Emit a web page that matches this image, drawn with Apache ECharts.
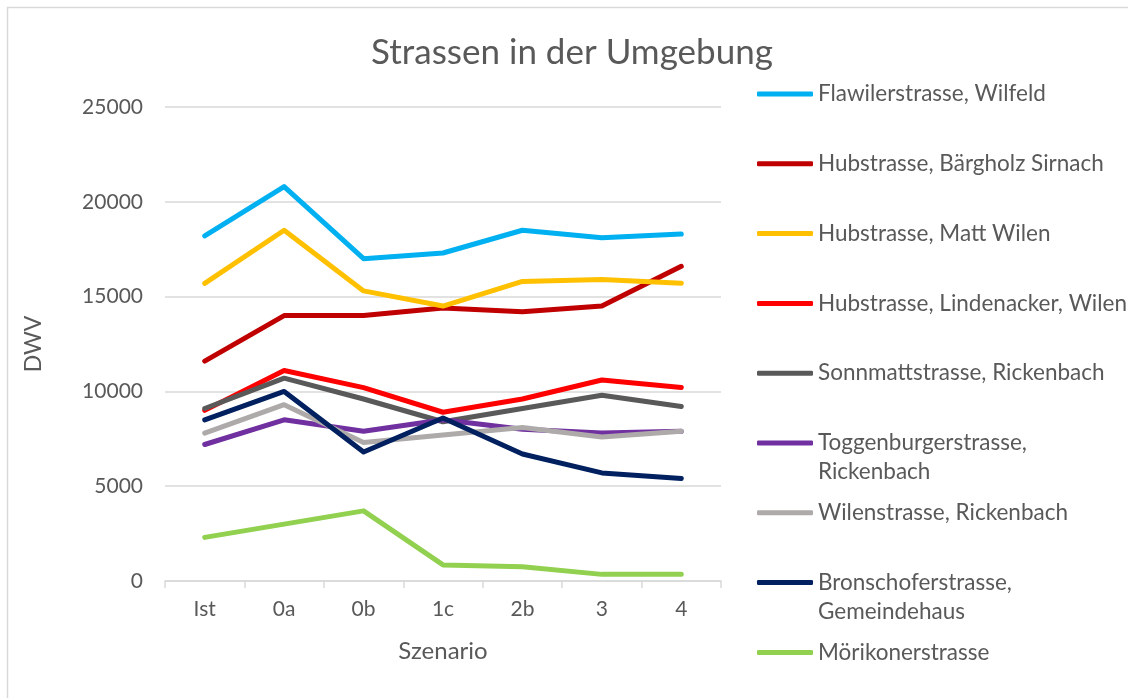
<!DOCTYPE html>
<html>
<head>
<meta charset="utf-8">
<script src="https://cdn.jsdelivr.net/npm/echarts@6/dist/echarts.min.js"></script>
<style>
  html, body { margin: 0; padding: 0; background: #fff; }
  #chart { width: 1128px; height: 698px; }
</style>
</head>
<body>
<div id="chart"></div>
<script>
// Szenarien (x-Achse)
const scenarios = ['Ist', '0a', '0b', '1c', '2b', '3', '4']

// DWV je Strasse
const flawiler = [18200, 20800, 17000, 17300, 18500, 18100, 18300]
const baergholz = [11600, 14000, 14000, 14400, 14200, 14500, 16600]
const mattWilen = [15700, 18500, 15300, 14500, 15800, 15900, 15700]
const lindenacker = [9000, 11100, 10200, 8900, 9600, 10600, 10200]
const sonnmatt = [9100, 10700, 9600, 8400, 9100, 9800, 9200]
const toggenburger = [7200, 8500, 7900, 8500, 8000, 7800, 7900]
const wilenstrasse = [7800, 9300, 7300, 7700, 8100, 7600, 7900]
const bronschofer = [8500, 10000, 6800, 8600, 6700, 5700, 5400]
const moerikoner = [2300, 3000, 3700, 850, 750, 350, 350]

const yTicks = [0, 5000, 10000, 15000, 20000, 25000]

const seriesNames = [
  'Flawilerstrasse, Wilfeld',
  'Hubstrasse, Bärgholz Sirnach',
  'Hubstrasse, Matt Wilen',
  'Hubstrasse, Lindenacker, Wilen',
  'Sonnmattstrasse, Rickenbach',
  'Toggenburgerstrasse,\nRickenbach',
  'Wilenstrasse, Rickenbach',
  'Bronschoferstrasse,\nGemeindehaus',
  'Mörikonerstrasse'
]
const seriesData = [flawiler, baergholz, mattWilen, lindenacker, sonnmatt,
  toggenburger, wilenstrasse, bronschofer, moerikoner]
const colors = ['#00B0F0', '#C00000', '#FFC000', '#FF0000', '#595959',
  '#7030A0', '#AEAAAA', '#002060', '#92D050']

const font = 'Lato, "Open Sans", sans-serif'
const textColor = '#595959'
const lineH = 29
const legendStart = 94
const legendStep = 69.8

const chart = echarts.init(document.getElementById('chart'))

// one legend per entry, so the icon sits on the first text line
const legends = seriesNames.map((name, i) => {
  const multi = name.includes('\n')
  const centerY = legendStart + i * legendStep
  return {
    data: [name],
    left: 757,
    top: centerY - (multi ? lineH * 1.5 : lineH / 2),
    padding: 0,
    icon: 'roundRect',
    itemWidth: 56,
    itemHeight: 5,
    selectedMode: false,
    formatter: (n) => (n.includes('\n') ? '\n' + n : n),
    textStyle: {
      fontFamily: font,
      fontSize: 22.5,
      color: textColor,
      lineHeight: lineH
    }
  }
})

chart.setOption({
  animation: false,
  backgroundColor: '#fff',
  color: colors,
  title: {
    text: 'Strassen in der Umgebung',
    left: 572,
    textAlign: 'center',
    top: 35,
    padding: 0,
    textStyle: {
      fontFamily: font,
      fontSize: 35,
      fontWeight: 'normal',
      color: textColor
    }
  },
  graphic: [
    {
      type: 'rect',
      shape: { x: 7.5, y: 7.5, width: 1300, height: 900 },
      style: { fill: 'none', stroke: '#d9d9d9', lineWidth: 1.5 },
      silent: true
    }
  ],
  legend: legends,
  grid: {
    left: 165,
    right: 407,
    top: 107,
    bottom: 117
  },
  xAxis: {
    type: 'category',
    data: scenarios,
    boundaryGap: true,
    name: 'Szenario',
    nameLocation: 'middle',
    nameGap: 58,
    nameTextStyle: { fontFamily: font, fontSize: 24, color: textColor },
    axisLine: { lineStyle: { color: '#d9d9d9', width: 1.5 } },
    axisTick: { show: true, length: 7, lineStyle: { color: '#d9d9d9', width: 1.5 } },
    axisLabel: { fontFamily: font, fontSize: 21, color: textColor, margin: 18 }
  },
  yAxis: {
    type: 'value',
    min: yTicks[0],
    max: yTicks[yTicks.length - 1],
    interval: yTicks[1] - yTicks[0],
    name: 'DWV',
    nameLocation: 'middle',
    nameGap: 120,
    nameTextStyle: { fontFamily: font, fontSize: 23, color: textColor },
    axisLine: { show: false },
    axisTick: { show: false },
    splitLine: { lineStyle: { color: '#d9d9d9', width: 1.5 } },
    axisLabel: {
      fontFamily: font,
      fontSize: 21,
      color: textColor,
      margin: 22,
      formatter: (v) => String(v)
    }
  },
  series: seriesNames.map((name, i) => ({
    name: name,
    type: 'line',
    data: seriesData[i],
    showSymbol: false,
    symbol: 'none',
    lineStyle: { width: 5, color: colors[i], cap: 'round', join: 'round' },
    itemStyle: { color: colors[i] },
    emphasis: { disabled: true }
  }))
})
</script>
</body>
</html>
